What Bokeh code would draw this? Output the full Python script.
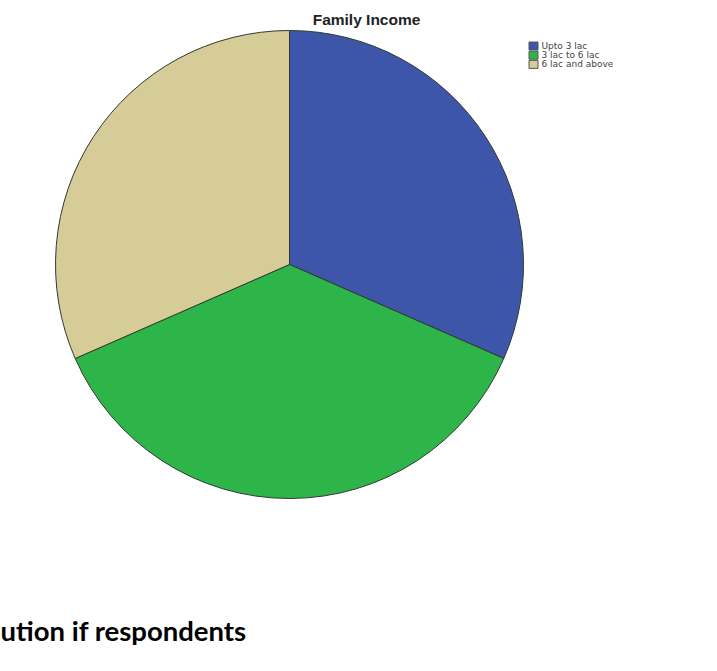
import math
from bokeh.plotting import figure
from bokeh.models import Range1d, ColumnDataSource, Label
from bokeh.core.properties import value
from bokeh.embed import file_html
from bokeh.resources import INLINE

# ---- data ----
title = "Family Income"
categories = ["Upto 3 lac", "3 lac to 6 lac", "6 lac and above"]
counts = [60, 70, 60]
colors = ["#3d56aa", "#2eb54a", "#d5cc98"]
caption = "ution if respondents"

W, H = 717, 671
p = figure(width=W, height=H, x_range=Range1d(0, W), y_range=Range1d(0, H),
           output_backend="svg", toolbar_location=None, min_border=0,
           x_axis_location=None, y_axis_location=None)
p.grid.visible = False
p.outline_line_color = None
p.background_fill_color = "white"
p.border_fill_color = "white"

# pie
cx, cy, r = 289, H - 264, 234
total = float(sum(counts))
starts, ends = [], []
cum = 0.0
for c in counts:
    starts.append(math.pi / 2 - 2 * math.pi * cum / total)
    cum += c
    ends.append(math.pi / 2 - 2 * math.pi * cum / total)
src = ColumnDataSource(dict(x=[cx] * len(counts), y=[cy] * len(counts),
                            start=starts, end=ends, color=colors, label=categories))
p.wedge(x="x", y="y", radius=r, radius_units="screen", start_angle="start", end_angle="end",
        direction="clock", fill_color="color", line_color="#2f3a2f", line_width=1, source=src)

# title
p.add_layout(Label(x=366, y=H - 10, text=title, text_align="center", text_baseline="top",
                   text_font="Liberation Sans", text_font_style="bold",
                   text_font_size="15.5px", text_color="#222222"))

# legend (manual)
lx, ly0, step = 533, H - 45.5, 9.2
ys = [ly0 - i * step for i in range(len(categories))]
lsrc = ColumnDataSource(dict(x=[lx] * len(categories), y=ys, color=colors, label=categories,
                             tx=[lx + 8] * len(categories)))
p.rect(x="x", y="y", width=9, height=8, width_units="screen", height_units="screen",
       fill_color="color", line_color="#555555", line_width=1, source=lsrc)
p.text(x="tx", y="y", text="label", text_font=value("DejaVu Sans"), text_font_size="9px",
       text_baseline="middle", text_color="#444444", source=lsrc)

# caption from page below the chart
p.add_layout(Label(x=0, y=H - 630, text=caption, text_align="left", text_baseline="alphabetic",
                   text_font="Lato", text_font_style="bold",
                   text_font_size="27.5px", text_color="#000000"))

open("out.html", "w").write(file_html(p, INLINE))
